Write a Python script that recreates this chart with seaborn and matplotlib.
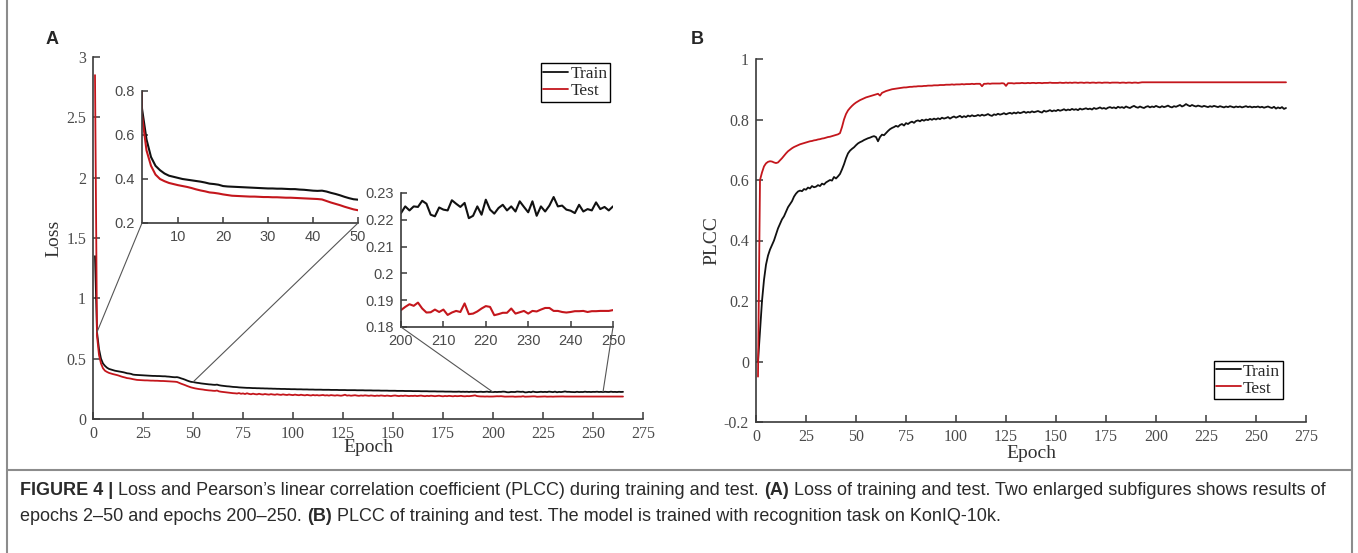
import numpy as np
import pandas as pd
import seaborn as sns
import matplotlib.pyplot as plt
from matplotlib.patches import ConnectionPatch
from matplotlib.lines import Line2D
from matplotlib.ticker import FuncFormatter
from matplotlib import font_manager

# ---- data (one value per epoch, epochs 1..265) ----
train_loss = [
    1.35, 0.72, 0.58, 0.50, 0.46, 0.44, 0.425, 0.415, 0.41, 0.405,
    0.400, 0.397, 0.394, 0.391, 0.388, 0.384, 0.379, 0.377, 0.374, 0.368,
    0.366, 0.365, 0.364, 0.363, 0.362, 0.361, 0.360, 0.359, 0.358, 0.357,
    0.357, 0.356, 0.356, 0.355, 0.354, 0.354, 0.352, 0.351, 0.349, 0.347,
    0.346, 0.347, 0.343, 0.337, 0.332, 0.326, 0.319, 0.313, 0.308, 0.306,
    0.303, 0.300, 0.298, 0.295, 0.293, 0.291, 0.289, 0.287, 0.286, 0.284,
    0.283, 0.285, 0.280, 0.277, 0.275, 0.273, 0.271, 0.270, 0.268, 0.266,
    0.265, 0.264, 0.262, 0.261, 0.260, 0.259, 0.258, 0.258, 0.257, 0.256,
    0.256, 0.255, 0.255, 0.254, 0.254, 0.253, 0.253, 0.252, 0.252, 0.251,
    0.251, 0.250, 0.250, 0.249, 0.249, 0.249, 0.248, 0.248, 0.247, 0.247,
    0.247, 0.246, 0.246, 0.246, 0.245, 0.245, 0.245, 0.244, 0.244, 0.244,
    0.243, 0.243, 0.243, 0.243, 0.242, 0.242, 0.242, 0.242, 0.241, 0.241,
    0.241, 0.241, 0.240, 0.240, 0.240, 0.240, 0.239, 0.239, 0.239, 0.239,
    0.239, 0.238, 0.238, 0.238, 0.238, 0.237, 0.237, 0.237, 0.237, 0.236,
    0.236, 0.236, 0.236, 0.235, 0.235, 0.235, 0.235, 0.234, 0.234, 0.234,
    0.234, 0.233, 0.233, 0.233, 0.233, 0.232, 0.232, 0.232, 0.232, 0.231,
    0.231, 0.231, 0.231, 0.230, 0.230, 0.230, 0.230, 0.229, 0.229, 0.229,
    0.229, 0.228, 0.228, 0.228, 0.228, 0.227, 0.227, 0.227, 0.227, 0.226,
    0.226, 0.226, 0.227, 0.225, 0.226, 0.225, 0.226, 0.224, 0.226, 0.225,
    0.226, 0.224, 0.225, 0.226, 0.224, 0.225, 0.227, 0.224, 0.225, 0.2225,
    0.2250, 0.2235, 0.2250, 0.2248, 0.2271, 0.2260, 0.2219, 0.2213, 0.2246, 0.2238,
    0.2235, 0.2273, 0.2260, 0.2248, 0.2263, 0.2206, 0.2215, 0.2250, 0.2219, 0.2275,
    0.2238, 0.2223, 0.2244, 0.2256, 0.2235, 0.2250, 0.2231, 0.2269, 0.2248, 0.2228,
    0.2269, 0.2215, 0.2250, 0.2231, 0.2253, 0.2285, 0.2250, 0.2253, 0.2238, 0.2234,
    0.2225, 0.2256, 0.2231, 0.2240, 0.2235, 0.2265, 0.2240, 0.2248, 0.2235, 0.2250,
    0.2245, 0.2262, 0.2238, 0.2250, 0.2231, 0.2258, 0.2242, 0.2236, 0.2265, 0.2240,
    0.2248, 0.2233, 0.2255, 0.2241, 0.2250,
]

test_loss = [
    2.85, 0.69, 0.53, 0.46, 0.42, 0.40, 0.39, 0.382, 0.377, 0.372,
    0.368, 0.364, 0.359, 0.353, 0.348, 0.344, 0.339, 0.337, 0.334, 0.330,
    0.327, 0.324, 0.323, 0.322, 0.321, 0.320, 0.320, 0.319, 0.318, 0.318,
    0.317, 0.317, 0.316, 0.315, 0.315, 0.314, 0.313, 0.312, 0.311, 0.310,
    0.309, 0.307, 0.300, 0.293, 0.287, 0.281, 0.274, 0.268, 0.262, 0.258,
    0.254, 0.251, 0.248, 0.246, 0.244, 0.241, 0.239, 0.237, 0.236, 0.234,
    0.233, 0.236, 0.229, 0.226, 0.224, 0.222, 0.220, 0.218, 0.216, 0.214,
    0.213, 0.211, 0.215, 0.209, 0.212, 0.207, 0.213, 0.208, 0.205, 0.210,
    0.206, 0.204, 0.209, 0.205, 0.203, 0.207, 0.204, 0.202, 0.206, 0.203,
    0.201, 0.205, 0.202, 0.200, 0.204, 0.201, 0.199, 0.203, 0.200, 0.198,
    0.202, 0.199, 0.197, 0.201, 0.198, 0.196, 0.200, 0.197, 0.195, 0.199,
    0.196, 0.198, 0.195, 0.197, 0.199, 0.195, 0.197, 0.194, 0.198, 0.196,
    0.194, 0.197, 0.195, 0.193, 0.196, 0.201, 0.194, 0.196, 0.193, 0.195,
    0.197, 0.194, 0.192, 0.195, 0.193, 0.196, 0.194, 0.192, 0.195, 0.193,
    0.191, 0.194, 0.192, 0.195, 0.193, 0.191, 0.194, 0.192, 0.190, 0.193,
    0.195, 0.192, 0.190, 0.193, 0.191, 0.194, 0.192, 0.190, 0.192, 0.191,
    0.193, 0.190, 0.192, 0.194, 0.191, 0.189, 0.192, 0.190, 0.193, 0.191,
    0.189, 0.191, 0.193, 0.190, 0.188, 0.191, 0.189, 0.192, 0.190, 0.188,
    0.191, 0.189, 0.190, 0.192, 0.189, 0.188, 0.190, 0.189, 0.191, 0.193,
    0.196, 0.190, 0.188, 0.187, 0.187, 0.186, 0.187, 0.186, 0.186, 0.1863,
    0.1875, 0.1885, 0.1879, 0.1891, 0.1869, 0.1854, 0.1855, 0.1865, 0.1856, 0.1865,
    0.1845, 0.1854, 0.1860, 0.1856, 0.1888, 0.1848, 0.1850, 0.1858, 0.1869, 0.1878,
    0.1875, 0.1844, 0.1848, 0.1853, 0.1853, 0.1869, 0.1850, 0.1855, 0.1860, 0.1850,
    0.1860, 0.1858, 0.1865, 0.1871, 0.1871, 0.1860, 0.1860, 0.1856, 0.1854, 0.1856,
    0.1859, 0.1859, 0.1860, 0.1856, 0.1859, 0.1859, 0.1860, 0.1860, 0.1860, 0.1863,
    0.1862, 0.1860, 0.1861, 0.1860, 0.1862, 0.1861, 0.1860, 0.1861, 0.1862, 0.1860,
    0.1861, 0.1861, 0.1860, 0.1862, 0.1861,
]

train_plcc = [
    0.00, 0.10, 0.20, 0.27, 0.32, 0.35, 0.37, 0.385, 0.40, 0.42,
    0.44, 0.455, 0.47, 0.48, 0.495, 0.51, 0.52, 0.53, 0.545, 0.555,
    0.562, 0.565, 0.563, 0.570, 0.568, 0.575, 0.572, 0.580, 0.576, 0.578,
    0.583, 0.580, 0.588, 0.585, 0.592, 0.596, 0.600, 0.598, 0.610, 0.605,
    0.612, 0.620, 0.635, 0.652, 0.672, 0.688, 0.697, 0.703, 0.708, 0.715,
    0.721, 0.725, 0.728, 0.732, 0.735, 0.738, 0.740, 0.743, 0.745, 0.742,
    0.728, 0.742, 0.750, 0.748, 0.755, 0.762, 0.768, 0.772, 0.775, 0.779,
    0.776, 0.782, 0.785, 0.780, 0.788, 0.785, 0.790, 0.793, 0.789, 0.795,
    0.797, 0.794, 0.799, 0.796, 0.800, 0.798, 0.802, 0.799, 0.803, 0.800,
    0.804, 0.801, 0.806, 0.803, 0.805, 0.808, 0.803, 0.807, 0.810, 0.806,
    0.809, 0.812, 0.807, 0.811, 0.808, 0.813, 0.810, 0.814, 0.811, 0.812,
    0.815, 0.812, 0.816, 0.813, 0.815, 0.818, 0.814, 0.812, 0.817, 0.815,
    0.819, 0.816, 0.818, 0.821, 0.817, 0.820, 0.822, 0.819, 0.823, 0.820,
    0.824, 0.821, 0.823, 0.826, 0.822, 0.825, 0.823, 0.827, 0.824, 0.826,
    0.828, 0.825, 0.823, 0.829, 0.826, 0.828, 0.831, 0.827, 0.830, 0.828,
    0.832, 0.829, 0.831, 0.834, 0.830, 0.833, 0.831, 0.835, 0.832, 0.834,
    0.831, 0.836, 0.833, 0.835, 0.837, 0.834, 0.836, 0.833, 0.838, 0.835,
    0.837, 0.840, 0.836, 0.838, 0.835, 0.839, 0.841, 0.838, 0.840, 0.837,
    0.842, 0.839, 0.841, 0.838, 0.843, 0.840, 0.838, 0.842, 0.845, 0.841,
    0.839, 0.843, 0.840, 0.838, 0.842, 0.844, 0.840, 0.843, 0.841, 0.845,
    0.842, 0.840, 0.844, 0.841, 0.843, 0.846, 0.842, 0.840, 0.844, 0.842,
    0.845, 0.848, 0.843, 0.846, 0.851, 0.847, 0.844, 0.848, 0.845, 0.843,
    0.846, 0.844, 0.842, 0.845, 0.843, 0.841, 0.844, 0.842, 0.845, 0.843,
    0.841, 0.844, 0.842, 0.840, 0.843, 0.841, 0.844, 0.842, 0.840, 0.843,
    0.841, 0.843, 0.840, 0.842, 0.844, 0.841, 0.843, 0.840, 0.842, 0.841,
    0.843, 0.840, 0.842, 0.839, 0.841, 0.843, 0.840, 0.838, 0.842, 0.836,
    0.840, 0.837, 0.841, 0.835, 0.838,
]

test_plcc = [
    -0.05, 0.60, 0.625, 0.645, 0.655, 0.660, 0.662, 0.661, 0.658, 0.656,
    0.658, 0.665, 0.672, 0.680, 0.688, 0.695, 0.700, 0.705, 0.709, 0.712,
    0.715, 0.718, 0.720, 0.722, 0.724, 0.726, 0.728, 0.729, 0.731, 0.732,
    0.734, 0.735, 0.737, 0.738, 0.740, 0.742, 0.743, 0.745, 0.747, 0.749,
    0.751, 0.755, 0.775, 0.800, 0.818, 0.830, 0.838, 0.845, 0.851, 0.856,
    0.860, 0.864, 0.867, 0.870, 0.873, 0.875, 0.877, 0.879, 0.881, 0.883,
    0.885, 0.879, 0.888, 0.891, 0.894, 0.896, 0.898, 0.900, 0.901, 0.902,
    0.903, 0.904, 0.905, 0.906, 0.906, 0.907, 0.908, 0.908, 0.909, 0.909,
    0.910, 0.910, 0.910, 0.911, 0.911, 0.912, 0.912, 0.912, 0.913, 0.913,
    0.913, 0.914, 0.914, 0.914, 0.915, 0.915, 0.915, 0.916, 0.915, 0.916,
    0.916, 0.916, 0.917, 0.916, 0.917, 0.917, 0.917, 0.918, 0.917, 0.918,
    0.918, 0.918, 0.910, 0.918, 0.918, 0.919, 0.918, 0.919, 0.919, 0.919,
    0.919, 0.919, 0.920, 0.919, 0.911, 0.920, 0.920, 0.920, 0.919, 0.920,
    0.920, 0.920, 0.921, 0.920, 0.920, 0.921, 0.920, 0.921, 0.921, 0.920,
    0.921, 0.921, 0.920, 0.921, 0.921, 0.921, 0.922, 0.921, 0.921, 0.921,
    0.921, 0.922, 0.921, 0.921, 0.922, 0.921, 0.922, 0.921, 0.922, 0.922,
    0.921, 0.922, 0.922, 0.921, 0.922, 0.922, 0.921, 0.922, 0.922, 0.921,
    0.922, 0.922, 0.921, 0.922, 0.922, 0.922, 0.921, 0.922, 0.922, 0.922,
    0.922, 0.921, 0.922, 0.922, 0.921, 0.922, 0.922, 0.921, 0.922, 0.922,
    0.921, 0.922, 0.923, 0.923, 0.923, 0.923, 0.923, 0.923, 0.923, 0.923,
    0.923, 0.923, 0.923, 0.923, 0.923, 0.923, 0.923, 0.923, 0.923, 0.923,
    0.923, 0.923, 0.923, 0.923, 0.923, 0.923, 0.923, 0.923, 0.923, 0.923,
    0.923, 0.923, 0.923, 0.923, 0.923, 0.923, 0.923, 0.923, 0.923, 0.923,
    0.923, 0.923, 0.923, 0.923, 0.923, 0.923, 0.923, 0.923, 0.923, 0.923,
    0.923, 0.923, 0.923, 0.923, 0.923, 0.923, 0.923, 0.923, 0.923, 0.923,
    0.923, 0.923, 0.923, 0.923, 0.923, 0.923, 0.923, 0.923, 0.923, 0.923,
    0.923, 0.923, 0.923, 0.923, 0.923,
]

epochs = list(range(1, len(train_loss) + 1))

epoch_ticks = [0, 25, 50, 75, 100, 125, 150, 175, 200, 225, 250, 275]
loss_ticks = [0, 0.5, 1, 1.5, 2, 2.5, 3]
plcc_ticks = [-0.2, 0, 0.2, 0.4, 0.6, 0.8, 1]
zoom1_xticks = [10, 20, 30, 40, 50]
zoom1_yticks = [0.2, 0.4, 0.6, 0.8]
zoom2_xticks = [200, 210, 220, 230, 240, 250]
zoom2_yticks = [0.18, 0.19, 0.2, 0.21, 0.22, 0.23]

caption_1 = [("FIGURE 4 |", "bold"),
             (" Loss and Pearson\u2019s linear correlation coefficient (PLCC) during training and test. ", "normal"),
             ("(A)", "bold"),
             (" Loss of training and test. Two enlarged subfigures shows results of", "normal")]
caption_2 = [("epochs 2\u201350 and epochs 200\u2013250. ", "normal"),
             ("(B)", "bold"),
             (" PLCC of training and test. The model is trained with recognition task on KonIQ-10k.", "normal")]

# ---- style ----
sns.set_theme(style="ticks")
installed = {f.name for f in font_manager.fontManager.ttflist}
serif = ["Liberation Serif", "DejaVu Serif"]
sans = ["Liberation Sans", "DejaVu Sans"]
narrow = ["Liberation Sans Narrow"] if "Liberation Sans Narrow" in installed else sans
plt.rcParams["font.family"] = serif
plt.rcParams["axes.facecolor"] = "white"

BLACK = "#111111"
RED = "#c4161c"
AXC = "#3a3a3a"
TXT = "#4a4a4a"

W, H = 1358, 553
fig = plt.figure(figsize=(W / 100, H / 100), dpi=100)


def box(x0, y0, x1, y1):
    return [x0 / W, 1 - y1 / H, (x1 - x0) / W, (y1 - y0) / H]


fmt = FuncFormatter(lambda v, p: f"{v:g}")


def style(ax, family, size, length):
    sns.despine(ax=ax)
    for s in ("left", "bottom"):
        ax.spines[s].set_color(AXC)
        ax.spines[s].set_linewidth(1.2)
    ax.tick_params(direction="in", length=length, width=1.1, color=AXC,
                   labelcolor=TXT, labelsize=size, labelfontfamily=family, pad=5)
    ax.xaxis.set_major_formatter(fmt)
    ax.yaxis.set_major_formatter(fmt)


# ---- panel A ----
axA = fig.add_axes(box(93, 57, 643, 419))
sns.lineplot(x=epochs, y=train_loss, ax=axA, color=BLACK, lw=1.3, label="Train")
sns.lineplot(x=epochs, y=test_loss, ax=axA, color=RED, lw=1.3, label="Test")
axA.set_xlim(0, 275)
axA.set_ylim(0, 3)
axA.set_xticks(epoch_ticks)
axA.set_yticks(loss_ticks)
style(axA, serif, 11.5, 5)
axA.set_xlabel("Epoch", fontsize=14, color="#333333")
axA.set_ylabel("Loss", fontsize=14, color="#333333")
axA.xaxis.set_label_coords(0.5, -0.079)
axA.xaxis.label.set_va("center")
axA.yaxis.set_label_coords(-0.071, 0.5)
axA.yaxis.label.set_va("center")
legA = axA.legend(loc="upper right", bbox_to_anchor=(0.94, 0.983), borderaxespad=0,
                  fancybox=False, framealpha=1, edgecolor="black", fontsize=12.5,
                  handlelength=1.4, handletextpad=0.15, borderpad=0.15, labelspacing=0.05)
legA.get_frame().set_linewidth(1.0)

in1 = fig.add_axes(box(142, 91, 358, 223))
sns.lineplot(x=epochs, y=train_loss, ax=in1, color=BLACK, lw=1.5, legend=False)
sns.lineplot(x=epochs, y=test_loss, ax=in1, color=RED, lw=1.5, legend=False)
in1.set_xlim(2, 50)
in1.set_ylim(0.2, 0.8)
in1.set_xticks(zoom1_xticks)
in1.set_yticks(zoom1_yticks)
style(in1, sans, 10.5, 4)
in1.set_xlabel("")
in1.set_ylabel("")

in2 = fig.add_axes(box(401, 193, 613, 327))
sns.lineplot(x=epochs, y=train_loss, ax=in2, color=BLACK, lw=1.5, legend=False)
sns.lineplot(x=epochs, y=test_loss, ax=in2, color=RED, lw=1.5, legend=False)
in2.set_xlim(200, 250)
in2.set_ylim(0.18, 0.23)
in2.set_xticks(zoom2_xticks)
in2.set_yticks(zoom2_yticks)
style(in2, sans, 10.5, 4)
in2.set_xlabel("")
in2.set_ylabel("")

for ins, corner, ep in ((in1, (0, 0), 2), (in1, (1, 0), 50),
                        (in2, (0, 0), 200), (in2, (1, 0), 255)):
    con = ConnectionPatch(xyA=corner, coordsA=ins.transAxes,
                          xyB=(ep, train_loss[ep - 1]), coordsB=axA.transData,
                          color="#555555", lw=0.8)
    fig.add_artist(con)

# ---- panel B ----
axB = fig.add_axes(box(756, 59, 1306, 422))
sns.lineplot(x=epochs, y=train_plcc, ax=axB, color=BLACK, lw=1.3, label="Train")
sns.lineplot(x=epochs, y=test_plcc, ax=axB, color=RED, lw=1.3, label="Test")
axB.set_xlim(0, 275)
axB.set_ylim(-0.2, 1)
axB.set_xticks(epoch_ticks)
axB.set_yticks(plcc_ticks)
style(axB, serif, 11.5, 5)
axB.set_xlabel("Epoch", fontsize=14, color="#333333")
axB.set_ylabel("PLCC", fontsize=14, color="#333333")
axB.xaxis.set_label_coords(0.5, -0.086)
axB.xaxis.label.set_va("center")
axB.yaxis.set_label_coords(-0.08, 0.5)
axB.yaxis.label.set_va("center")
legB = axB.legend(loc="lower right", bbox_to_anchor=(0.958, 0.063), borderaxespad=0,
                  fancybox=False, framealpha=1, edgecolor="black", fontsize=12.5,
                  handlelength=1.4, handletextpad=0.15, borderpad=0.15, labelspacing=0.05)
legB.get_frame().set_linewidth(1.0)

# ---- panel letters, frame and caption ----
fig.text(52 / W, 1 - 40 / H, "A", fontsize=13, weight="bold", family=sans,
         ha="center", va="center")
fig.text(697 / W, 1 - 40 / H, "B", fontsize=13, weight="bold", family=sans,
         ha="center", va="center")

for xs, ys in (([7, 7], [0, 553]), ([1352, 1352], [0, 553]), ([7, 1352], [470, 470])):
    fig.add_artist(Line2D([x / W for x in xs], [1 - y / H for y in ys],
                          transform=fig.transFigure, color="#8c8c8c", lw=1.5))


def caption(x, y, parts):
    prev = fig.text(x / W, 1 - y / H, parts[0][0], weight=parts[0][1], family=narrow,
                    fontsize=13, color="#2a2a2a", va="baseline")
    for txt, w in parts[1:]:
        prev = axA.annotate(txt, xy=(1, 0), xycoords=prev, va="bottom", ha="left",
                            weight=w, family=narrow, fontsize=13, color="#2a2a2a",
                            annotation_clip=False)


caption(20, 495, caption_1)
caption(20, 521, caption_2)

fig.savefig("out.png", dpi=100)
